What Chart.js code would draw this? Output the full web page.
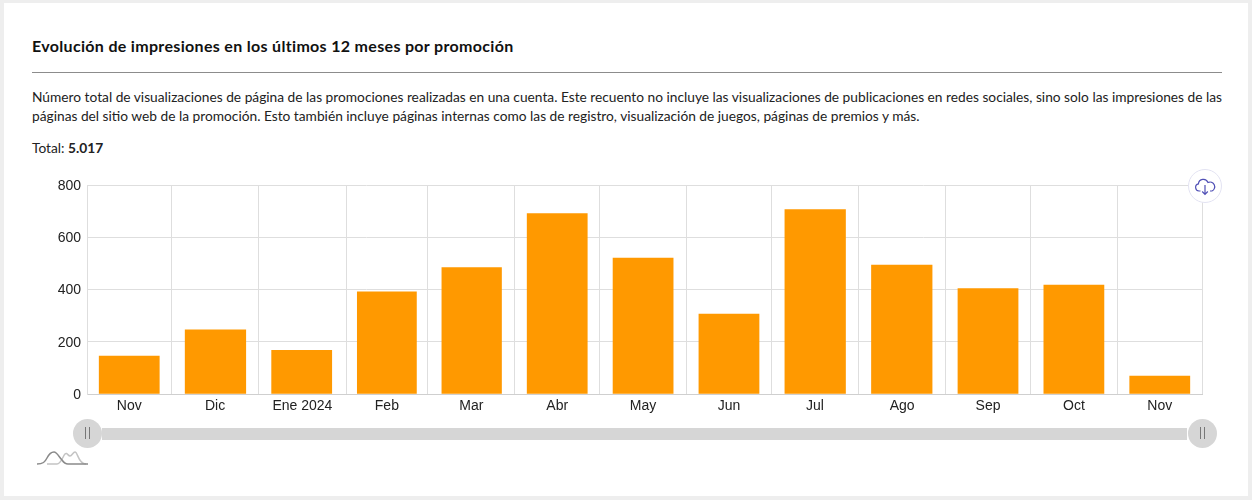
<!DOCTYPE html>
<html lang="es">
<head>
<meta charset="utf-8">
<title>Evolución de impresiones</title>
<script src="https://cdn.jsdelivr.net/npm/chart.js@4"></script>
<style>
  html, body { margin: 0; padding: 0; background: #fff; }
  #frame { position: relative; width: 1252px; height: 500px; box-sizing: border-box; border: solid #eeeeee; border-width: 3px 4px 4px 4px; overflow: hidden; font-family: Lato, sans-serif; color: #222; }
  #page { position: absolute; left: -4px; top: -3px; width: 1252px; height: 500px; }
  .txt { position: absolute; left: 32px; white-space: nowrap; font-size: 13.74px; line-height: 20px; }
  h1 { margin: 0; position: absolute; left: 32px; top: 36px; font-size: 16px; letter-spacing: 0.32px; line-height: 20px; font-weight: 700; color: #111; white-space: nowrap; }
  #rule { position: absolute; left: 32px; top: 72px; width: 1190px; height: 1px; background: #8c8c8c; }
  canvas { position: absolute; left: 0; top: 0; }
  #track { position: absolute; left: 102px; top: 428px; width: 1085px; height: 12px; background: #d6d6d6; }
  .handle { position: absolute; top: 419px; width: 29px; height: 29px; border-radius: 50%; background: #d6d6d6; }
  .handle::after { content: ""; position: absolute; left: 12px; top: 8px; width: 3px; height: 12px; border-left: 1px solid #777; border-right: 1px solid #777; }
  #cloud { position: absolute; left: 1188px; top: 169px; width: 34px; height: 34px; box-sizing: border-box; border: 1px solid #e3e3f2; border-radius: 50%; background: #fff; }
  #logo { position: absolute; left: 37px; top: 449px; }
</style>
</head>
<body>
<div id="frame"><div id="page">
  <h1>Evolución de impresiones en los últimos 12 meses por promoción</h1>
  <div id="rule"></div>
  <div class="txt" style="top:87px">Número total de visualizaciones de página de las promociones realizadas en una cuenta. Este recuento no incluye las visualizaciones de publicaciones en redes sociales, sino solo las impresiones de las</div>
  <div class="txt" style="top:106px">páginas del sitio web de la promoción. Esto también incluye páginas internas como las de registro, visualización de juegos, páginas de premios y más.</div>
  <div class="txt" style="top:138px">Total: <b>5.017</b></div>
  <canvas id="impressionsChart" width="1252" height="500"></canvas>
  <div id="track"></div>
  <div class="handle" style="left:73px"></div>
  <div class="handle" style="left:1188px"></div>
  <div id="cloud">
    <svg width="32" height="32" viewBox="0 0 32 32" fill="none" stroke="#4f4fb5" stroke-width="1.2">
      <path d="M11.5 21h-1.5a3.6 3.6 0 0 1-.6-7.1 5 5 0 0 1 9.6-1.4 4.3 4.3 0 0 1 4 8.5h-2"/>
      <path d="M16 15v9M13.2 21.5l2.8 2.8 2.8-2.8"/>
    </svg>
  </div>
  <svg id="logo" width="52" height="17" viewBox="0 0 52 17" fill="none" stroke-width="1.5">
    <path d="M10 15h10c4 0 6-8 8-10c2-2 3 2 5 2c2 0 3-4 5-4c3 0 3 12 11 12" stroke="#c4c4c4"/>
    <path d="M0 15C6 15 8 13 10 9C12 5 14 3 17 3C20 3 22 8 25 11C27 14 29 15 31 15L51 15" stroke="#8a8a8a"/>
  </svg>
</div></div>
<script>
//=================Data=====================//
var monthLabels = ['Nov', 'Dic', 'Ene 2024', 'Feb', 'Mar', 'Abr', 'May', 'Jun', 'Jul', 'Ago', 'Sep', 'Oct', 'Nov'];
var monthDays = [30, 31, 31, 29, 31, 30, 31, 30, 31, 31, 30, 31, 30];
var impressions = [145, 246, 167, 391, 484, 691, 520, 306, 706, 493, 404, 417, 69];
var yTicks = [0, 200, 400, 600, 800];

//=================Positions on the day axis=================//
var monthStarts = [0];
var monthMiddles = [];
for (var i = 0; i < monthDays.length; i++) {
  monthMiddles.push(monthStarts[i] + monthDays[i] / 2);
  monthStarts.push(monthStarts[i] + monthDays[i]);
}
var totalDays = monthStarts[monthStarts.length - 1];

var barPoints = [];
for (var j = 0; j < impressions.length; j++) {
  barPoints.push({ x: monthMiddles[j], y: impressions[j] });
}

// Boundaries draw the grid, middles carry the label
var xTicks = [];
for (var k = 0; k < monthDays.length; k++) {
  xTicks.push({ value: monthStarts[k] });
  xTicks.push({ value: monthMiddles[k] });
}
xTicks.push({ value: totalDays });

//=================Chart=====================//
var tickFont = { family: '"Liberation Sans", Arial, sans-serif', size: 14 };
var gridColor = '#dedede';
var ctx = document.getElementById('impressionsChart').getContext('2d');
var impressionsChart = new Chart(ctx, {
  type: 'bar',
  data: {
    datasets: [{
      label: 'Impresiones',
      data: barPoints,
      backgroundColor: '#ff9900',
      borderWidth: 0,
      barThickness: 'flex',
      barPercentage: 0.7,
      categoryPercentage: 1
    }]
  },
  options: {
    responsive: false,
    animation: false,
    layout: { padding: { left: 0, top: 185, right: 50, bottom: 76 } },
    plugins: { legend: { display: false }, tooltip: { enabled: false }, title: { display: false } },
    scales: {
      x: {
        type: 'linear',
        offset: false,
        min: 0,
        max: totalDays,
        afterBuildTicks: function(scale) { scale.ticks = xTicks; },
        afterFit: function(scale) { scale.height = 30; },
        grid: {
          offset: false,
          drawTicks: false,
          color: function(context) { return context.index % 2 === 0 ? gridColor : 'transparent'; }
        },
        border: { color: '#cfcfcf' },
        ticks: {
          autoSkip: false,
          maxRotation: 0,
          padding: 4,
          color: '#222',
          font: tickFont,
          callback: function(value, index) { return index % 2 === 1 ? monthLabels[(index - 1) / 2] : ''; }
        }
      },
      y: {
        min: 0,
        max: 800,
        afterBuildTicks: function(scale) { scale.ticks = yTicks.map(function(v) { return { value: v }; }); },
        afterFit: function(scale) { scale.width = 87; },
        grid: { drawTicks: false, color: gridColor },
        border: { color: gridColor },
        ticks: { padding: 6, labelOffset: 1, color: '#222', font: tickFont }
      }
    }
  }
});
</script>
</body>
</html>
